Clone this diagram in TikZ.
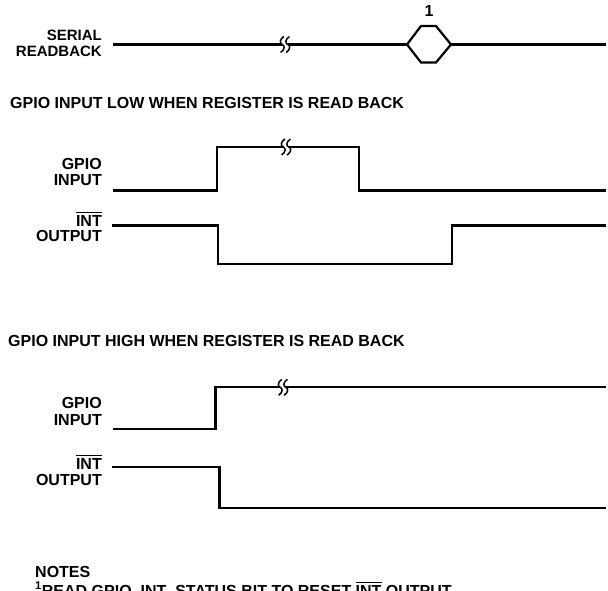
\documentclass[tikz,border=0pt]{standalone}
\usepackage{fontspec}
\setmainfont{Liberation Sans}
\newcommand{\ovl}[1]{\setbox0\hbox{#1}\rlap{\rule[\dimexpr\ht0+1.6pt\relax]{\wd0}{1.3pt}}\box0\relax}
\begin{document}
\begin{tikzpicture}[x=1pt,y=-1pt,
  lbl/.style={font=\fontsize{16}{17}\selectfont\bfseries, inner sep=0pt, anchor=base east, align=right},
  slbl/.style={lbl, font=\fontsize{15}{16}\selectfont\bfseries},
  ttl/.style={font=\fontsize{16}{17}\selectfont\bfseries, inner sep=0pt, anchor=base west},
  wave/.style={line width=2.2pt, line join=miter, line cap=butt},
  squig/.style={line width=1.5pt},
  brk/.pic={
    \fill[white] (-2.8,-3) rectangle (2.8,3);
    \draw[squig] (-1.2,-8) .. controls (-5.5,-5) and (-5.5,-1) .. (-2.8,0) .. controls (0,1) and (0,5) .. (-4.4,8);
    \draw[squig] (4.4,-8) .. controls (0,-5) and (0,-1) .. (2.8,0) .. controls (5.5,1) and (5.5,5) .. (1.2,8);
  }]
\useasboundingbox (0,0) rectangle (608,590);

% serial readback
\node[slbl] (s1) at (102,40) {SERIAL};
\node[slbl] (s2) at (102,56.5) {READBACK};
\draw[wave] (113,44.5) -- (407,44.5);
\draw[wave] (407,44.5) -- (421,26) -- (436,26) -- (451,44.5) -- (436,62.5) -- (421,62.5) -- cycle;
\draw[wave] (451,44.5) -- (606,44.5);
\pic at (285,44.5) {brk};
\node[font=\fontsize{16}{17}\selectfont\bfseries, inner sep=0pt] (n1) at (429,11) {1};

% section 1
\node[ttl] (t1) at (10,108) {GPIO INPUT LOW WHEN REGISTER IS READ BACK};
\node[lbl] (g1a) at (102,169) {GPIO};
\node[lbl] (g1b) at (102,185) {INPUT};
\draw[wave] (113,190.5) -- (217,190.5) -- (217,147) -- (359,147) -- (359,190.5) -- (606,190.5);
\pic at (286,147) {brk};
\node[lbl] (i1a) at (102,226) {\ovl{INT}};
\node[lbl] (i1b) at (102,241.5) {OUTPUT};
\draw[wave] (112,225.5) -- (218,225.5) -- (218,264) -- (452,264) -- (452,225.5) -- (606,225.5);

% section 2
\node[ttl] (t2) at (8,346) {GPIO INPUT HIGH WHEN REGISTER IS READ BACK};
\node[lbl] (g2a) at (102,408) {GPIO};
\node[lbl] (g2b) at (102,425) {INPUT};
\draw[wave] (113,429.3) -- (215.5,429.3) -- (215.5,387.3) -- (606,387.3);
\pic at (283,387.3) {brk};
\node[lbl] (i2a) at (102,469) {\ovl{INT}};
\node[lbl] (i2b) at (102,485) {OUTPUT};
\draw[wave] (112,466.7) -- (219.4,466.7) -- (219.4,507.7) -- (606,507.7);

% notes
\node[ttl] (nt) at (35,577) {NOTES};
\node[ttl] (nl) at (35,596) {\textsuperscript{1}READ GPIO\_INT\_STATUS BIT TO RESET \ovl{INT} OUTPUT};
\end{tikzpicture}
\end{document}
